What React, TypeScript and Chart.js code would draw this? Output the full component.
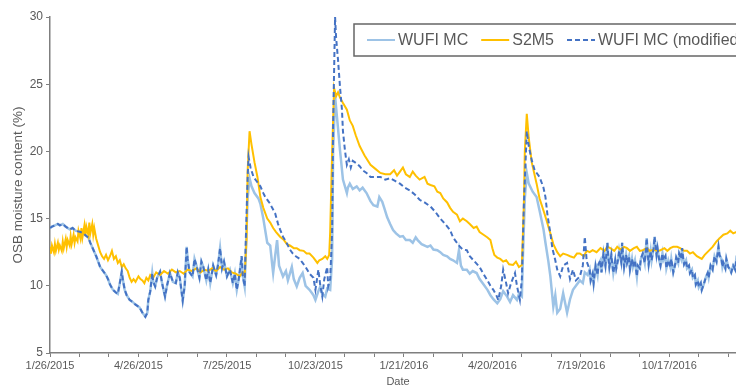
import React, { useEffect, useRef } from "react";
import { Chart, registerables } from "chart.js";

Chart.register(...registerables);

// ---- labels / ticks ----
const seriesLabels = ["WUFI MC", "S2M5", "WUFI MC (modified)"];
const xTickDays = [0, 30, 60, 90, 120, 150, 180, 210, 240, 270, 300, 330, 360, 390, 420, 450, 480, 510, 540, 570, 600, 630, 660, 690];
const xMajorLabels = ["1/26/2015", "4/26/2015", "7/25/2015", "10/23/2015", "1/21/2016", "4/20/2016", "7/19/2016", "10/17/2016"];
const yTicks = [5, 10, 15, 20, 25, 30];

// ---- data: [day since 1/26/2015, moisture content %] ----
// WUFI MC and WUFI MC (modified) coincide before the first wetting event
const sharedEarly: [number, number][] = [
  [0, 14.3], [2, 14.4], [5, 14.5], [8, 14.6], [10, 14.5], [13, 14.6], [16, 14.4], [20, 14.2], [23, 14.3], [26, 14.1],
  [31, 14.0], [34, 13.9], [37, 13.7], [39, 13.6], [41, 13.2], [44, 12.7], [47, 12.2], [51, 11.4], [54, 11.1], [57, 10.8],
  [59, 10.5], [61, 10.1], [64, 9.7], [67, 9.5], [69, 9.4], [71, 10.2], [73, 11.05], [74, 10.5], [76, 9.7], [78, 9.3],
  [81, 8.95], [84, 8.8], [87, 8.6], [91, 8.4], [94, 8.0], [97, 7.7], [99, 8.0], [100, 8.95], [102, 9.6], [104, 10.95],
  [105, 10.3], [107, 9.95], [109, 10.6], [112, 11.05], [114, 10.2], [117, 9.2], [119, 10.0], [122, 10.95], [125, 10.3], [128, 10.2],
  [130, 11.0], [132, 10.6], [135, 8.9], [137, 10.0], [139, 12.9], [140, 12.0], [142, 11.0], [145, 10.7], [147, 12.0], [149, 11.5],
  [152, 10.6], [154, 11.8], [156, 11.4], [159, 10.4], [161, 11.2], [163, 10.2], [166, 11.5], [169, 10.8], [171, 11.6], [173, 12.8],
  [175, 11.3], [177, 11.8], [180, 10.7], [183, 11.2], [186, 10.2], [188, 10.9], [190, 9.7], [192, 10.5], [195, 12.2], [196, 10.8],
  [198, 9.95],
];

const modifiedMid: [number, number][] = [
  [199, 13], [201, 18], [202, 19.6], [204, 18.8], [207, 18.1], [210, 17.8], [214, 17.4], [217, 16.9], [219, 16.6], [222, 16.3],
  [224, 16.1], [226, 15.8], [229, 15.4], [232, 14.6], [234, 14.2], [237, 13.65], [240, 13.3], [244, 12.7], [247, 12.4], [250, 12.2],
  [254, 12.0], [257, 11.7], [260, 11.4], [264, 10.9], [268, 10.6], [270, 9.7], [273, 11.2], [275, 10.0], [277, 9.2], [279, 10.5],
  [282, 11.4], [283, 9.95], [285, 10.5], [287, 14], [288, 22], [290, 30], [291, 28.5], [293, 26.8], [295, 24.8], [297, 23.1],
  [298, 21.5], [300, 20.1], [302, 19.0], [304, 19.4], [306, 18.8], [308, 19.3], [312, 19.1], [315, 18.9], [318, 18.6], [322, 18.4],
  [326, 18.1], [331, 18.1], [336, 18.1], [341, 17.9], [346, 18.0], [351, 17.8], [356, 17.6], [361, 17.3], [366, 17.1], [371, 16.8],
  [376, 16.4], [381, 16.2], [387, 15.9], [392, 15.5], [397, 15.0], [402, 14.6], [407, 14.15], [410, 13.6], [414, 13.2], [417, 12.9],
  [420, 12.7], [424, 12.65], [427, 12.2], [432, 11.8], [437, 11.4], [440, 11.0], [445, 10.4], [448, 10.0], [451, 9.7], [454, 9.3],
  [456, 8.95], [459, 10.0], [461, 11.2], [464, 10.2], [466, 9.45], [469, 10.2], [473, 10.95], [475, 10.0], [478, 8.95], [480, 10.5],
  [482, 16], [485, 21.5], [487, 20.4], [490, 19.35], [493, 18.6], [498, 18.1], [502, 17.3], [504, 16.6], [506, 15.3], [509, 13.9],
  [511, 12.8], [514, 11.9], [516, 11.2], [519, 10.7], [522, 11.5], [526, 11.7], [529, 10.5], [532, 11.2], [535, 10.4], [539, 10.7],
  [542, 11.5], [544, 13.65], [546, 11.8],
];

const wufiMid: [number, number][] = [
  [199, 12], [201, 16.5], [203, 18.0], [205, 17.4], [208, 16.9], [212, 16.5], [214, 16.1], [217, 15.0], [221, 13.2], [224, 13.0],
  [226, 11.6], [227, 10.95], [229, 12.2], [231, 13.4], [233, 11.5], [237, 10.7], [240, 11.1], [242, 10.4], [246, 11.4], [248, 10.5],
  [251, 9.95], [254, 10.6], [257, 10.95], [260, 10.0], [264, 9.7], [268, 9.3], [270, 8.95], [273, 9.6], [275, 9.95], [277, 9.4],
  [280, 9.2], [282, 9.8], [285, 9.7], [287, 12], [288, 20], [290, 24.1], [292, 22.5], [295, 20.1], [298, 17.9], [302, 16.9],
  [303, 17.3], [305, 17.6], [308, 17.2], [312, 17.4], [315, 17.1], [318, 17.3], [322, 16.9], [326, 16.3], [329, 16.0], [333, 15.9],
  [335, 16.6], [338, 16.25], [340, 15.8], [343, 15.1], [346, 14.6], [349, 14.15], [352, 13.9], [356, 13.65], [359, 13.7], [362, 13.4],
  [366, 13.4], [369, 13.2], [372, 13.6], [374, 13.4], [378, 13.1], [384, 12.9], [387, 13.0], [390, 12.7], [394, 12.65], [397, 12.5],
  [400, 12.3], [404, 12.2], [407, 12.0], [410, 11.9], [414, 11.7], [416, 12.65], [418, 11.5], [420, 11.2], [424, 11.2], [427, 10.9],
  [430, 11.1], [434, 10.95], [437, 10.5], [440, 10.2], [445, 9.7], [448, 9.3], [451, 9.0], [455, 8.7], [458, 9.0], [461, 9.6],
  [465, 9.2], [468, 8.8], [471, 9.3], [475, 8.95], [477, 9.4], [480, 9.2], [481, 12], [483, 16.5], [485, 18.4], [487, 17.6],
  [491, 17.0], [495, 16.6], [498, 15.6], [502, 14.2], [504, 13.2], [507, 11.8], [509, 10.7], [512, 8.45], [514, 9.3], [516, 8.0],
  [519, 8.3], [522, 9.45], [526, 8.0], [529, 9.0], [532, 9.7], [535, 10.0], [539, 10.4], [542, 10.2], [544, 11.0], [547, 10.8],
];

// both WUFI curves coincide again after summer 2016
const sharedLate: [number, number][] = [
  [549, 11.2], [550, 10.4], [552, 10.9], [553, 10.2], [555, 11.5], [557, 10.8], [558, 11.6], [560, 11.9], [561, 11.0], [563, 12.4],
  [565, 11.5], [567, 13.2], [568, 12.1], [569, 11.4], [571, 12.3], [572, 11.6], [573, 10.95], [575, 11.9], [576, 11.3], [578, 12.0],
  [579, 12.6], [581, 11.8], [582, 13.2], [583, 12.2], [584, 11.4], [586, 12.3], [587, 11.7], [589, 12.2], [590, 11.2], [592, 12.0],
  [593, 11.4], [595, 11.9], [597, 10.7], [598, 11.5], [600, 11.3], [601, 12.0], [603, 12.4], [605, 11.7], [607, 13.55], [608, 12.4],
  [609, 11.6], [611, 12.6], [612, 11.9], [614, 12.8], [615, 13.65], [617, 12.3], [618, 12.8], [620, 11.8], [621, 11.5], [623, 12.4],
  [624, 11.9], [626, 12.2], [627, 11.3], [629, 11.9], [631, 11.4], [632, 12.0], [634, 11.0], [636, 11.6], [637, 12.1], [639, 11.7],
  [640, 12.4], [642, 12.0], [643, 12.8], [644, 12.1], [645, 11.6], [647, 11.9], [648, 11.3], [650, 11.5], [651, 10.95], [653, 11.2],
  [654, 10.6], [656, 10.8], [657, 10.1], [659, 10.4], [660, 9.9], [662, 10.2], [663, 9.7], [664, 9.9], [665, 10.1], [667, 10.6],
  [669, 10.95], [670, 10.6], [672, 11.5], [674, 11.2], [676, 12.2], [678, 11.8], [680, 12.9], [681, 12.3], [683, 12.0], [684, 11.4],
  [685, 11.7], [687, 11.3], [688, 12.0], [690, 11.4], [692, 11.2], [693, 11.0], [695, 11.5], [697, 11.2], [698, 11.9], [700, 11.5],
  [702, 11.6],
];

const s2m5: [number, number][] = [
  [0, 12.9], [1, 12.4], [2, 13.0], [4, 12.5], [5, 13.1], [6, 12.6], [8, 13.2], [9, 12.7], [10, 13.0], [12, 12.6],
  [13, 13.3], [14, 12.8], [16, 13.5], [17, 12.9], [18, 13.4], [20, 13.0], [21, 13.7], [22, 13.1], [24, 13.8], [25, 13.2],
  [26, 13.6], [28, 13.3], [29, 14.1], [31, 13.5], [32, 14.3], [33, 13.6], [35, 14.5], [36, 13.7], [37, 14.4], [39, 13.8],
  [40, 14.7], [41, 13.9], [43, 14.6], [44, 13.8], [45, 14.3], [47, 13.5], [49, 13.0], [51, 12.5], [53, 12.2], [55, 12.0],
  [57, 12.3], [59, 11.9], [61, 12.2], [63, 12.6], [65, 12.0], [67, 12.2], [69, 11.7], [71, 11.9], [73, 11.4], [75, 11.6],
  [77, 11.3], [79, 11.1], [81, 10.6], [83, 10.3], [85, 10.5], [87, 10.3], [90, 10.7], [92, 10.5], [94, 10.4], [96, 10.2],
  [98, 10.6], [100, 10.4], [102, 10.8], [105, 10.6], [108, 11.0], [112, 10.8], [116, 11.1], [120, 10.9], [124, 11.2], [128, 11.0],
  [132, 11.1], [136, 10.9], [140, 11.2], [144, 11.1], [149, 11.3], [153, 11.0], [157, 11.2], [161, 11.1], [165, 11.3], [169, 11.1],
  [173, 11.4], [177, 11.2], [181, 11.3], [185, 11.0], [189, 10.9], [193, 10.7], [196, 11.0], [198, 10.8], [200, 13.5], [201, 18.5],
  [203, 21.5], [205, 20.5], [208, 19.2], [211, 18.1], [214, 16.6], [217, 15.8], [221, 15.0], [224, 14.7], [227, 14.3], [230, 14.0],
  [234, 13.65], [238, 13.4], [241, 13.1], [244, 13.0], [248, 12.8], [251, 12.8], [254, 12.65], [258, 12.6], [261, 12.4], [264, 12.4],
  [268, 12.1], [272, 11.7], [274, 11.9], [277, 12.0], [280, 12.2], [282, 12.0], [284, 12.3], [285, 14], [287, 20], [289, 24.7],
  [291, 24.1], [293, 24.4], [295, 24.0], [298, 23.6], [302, 23.1], [305, 22.3], [308, 21.9], [311, 21.2], [315, 20.4], [320, 19.7],
  [326, 19.0], [331, 18.7], [336, 18.4], [341, 18.3], [346, 18.3], [350, 18.6], [353, 18.2], [356, 18.5], [359, 18.8], [362, 18.3],
  [366, 18.1], [369, 18.5], [372, 18.2], [376, 17.9], [381, 18.1], [384, 17.6], [387, 17.5], [391, 17.4], [394, 17.0], [397, 16.9],
  [400, 16.5], [404, 16.2], [407, 15.8], [410, 15.5], [414, 15.3], [417, 14.8], [420, 15.0], [424, 14.8], [427, 14.6], [431, 14.3],
  [434, 14.4], [437, 14.0], [441, 13.8], [445, 13.6], [448, 13.4], [450, 12.8], [452, 12.3], [455, 12.1], [458, 12.0], [461, 11.8],
  [464, 11.9], [467, 11.6], [471, 11.55], [474, 11.8], [477, 11.4], [480, 11.55], [482, 16], [483, 20], [485, 22.8], [487, 21.0],
  [490, 19.2], [495, 17.6], [498, 16.5], [502, 15.6], [505, 14.9], [509, 13.9], [512, 13.1], [516, 12.5], [519, 12.2], [522, 12.4],
  [526, 12.3], [529, 12.2], [533, 12.1], [536, 12.4], [539, 12.4], [543, 12.2], [546, 12.6], [549, 12.5], [552, 12.65], [556, 12.5],
  [560, 12.8], [564, 12.6], [567, 12.9], [570, 12.8], [574, 12.6], [577, 12.9], [580, 12.7], [584, 12.9], [587, 12.8], [590, 12.6],
  [594, 12.8], [597, 12.9], [600, 12.6], [603, 12.65], [607, 12.8], [610, 12.6], [614, 12.7], [618, 12.6], [621, 12.65], [625, 12.8],
  [628, 12.6], [631, 12.8], [634, 12.9], [638, 12.9], [641, 12.8], [645, 12.6], [648, 12.6], [651, 12.4], [654, 12.5], [658, 12.2],
  [663, 12.0], [666, 12.3], [670, 12.6], [674, 12.9], [678, 13.3], [682, 13.6], [685, 13.8], [689, 13.9], [692, 14.1], [695, 13.9],
  [698, 14.0], [702, 13.9],
];

const COLORS = { wufi: "#9DC3E6", s2m5: "#FFC000", modified: "#4472C4" };
const AXIS_COLOR = "#7f7f7f";
const TEXT_COLOR = "#595959";
const FONT = "'Liberation Sans', Arial, sans-serif";

function toPoints(...parts: [number, number][][]) {
  return parts.flat().map(([x, y]) => ({ x, y }));
}

function labelForDay(day: number) {
  if (day % 90 !== 0) return "";
  return xMajorLabels[day / 90] ?? "";
}

const boxLegend = {
  id: "boxLegend",
  afterDraw(chart: any) {
    const ctx = chart.ctx as CanvasRenderingContext2D;
    const items = [
      { label: seriesLabels[0], color: COLORS.wufi, dash: [] as number[] },
      { label: seriesLabels[1], color: COLORS.s2m5, dash: [] as number[] },
      { label: seriesLabels[2], color: COLORS.modified, dash: [5, 3] },
    ];
    const left = 354, top = 24, h = 32;
    const lineLen = 28, gapText = 3, gapItem = 13, padL = 13;
    ctx.save();
    ctx.font = `16px ${FONT}`;
    let total = padL;
    items.forEach((it, i) => {
      total += lineLen + gapText + ctx.measureText(it.label).width + (i < items.length - 1 ? gapItem : 10);
    });
    ctx.fillStyle = "#ffffff";
    ctx.fillRect(left, top, total, h);
    ctx.strokeStyle = "#666666";
    ctx.lineWidth = 1.5;
    ctx.strokeRect(left, top, total, h);
    const cy = top + h / 2;
    let x = left + padL;
    ctx.textBaseline = "middle";
    ctx.textAlign = "left";
    items.forEach((it) => {
      ctx.beginPath();
      ctx.setLineDash(it.dash);
      ctx.strokeStyle = it.color;
      ctx.lineWidth = 2;
      ctx.moveTo(x, cy);
      ctx.lineTo(x + lineLen, cy);
      ctx.stroke();
      ctx.setLineDash([]);
      x += lineLen + gapText;
      ctx.fillStyle = TEXT_COLOR;
      ctx.fillText(it.label, x, cy + 1);
      x += ctx.measureText(it.label).width + gapItem;
    });
    ctx.restore();
  },
};

export default function App() {
  const canvasRef = useRef<HTMLCanvasElement | null>(null);

  useEffect(() => {
    if (!canvasRef.current) return;
    const chart = new Chart(canvasRef.current, {
      type: "line",
      data: {
        datasets: [
          {
            label: seriesLabels[2],
            data: toPoints(sharedEarly, modifiedMid, sharedLate),
            borderColor: COLORS.modified,
            borderWidth: 2,
            borderDash: [5, 3],
            pointRadius: 0,
            tension: 0,
            fill: false,
          },
          {
            label: seriesLabels[1],
            data: toPoints(s2m5),
            borderColor: COLORS.s2m5,
            borderWidth: 2,
            pointRadius: 0,
            tension: 0,
            fill: false,
          },
          {
            label: seriesLabels[0],
            data: toPoints(sharedEarly, wufiMid, sharedLate),
            borderColor: COLORS.wufi,
            borderWidth: 2.5,
            pointRadius: 0,
            tension: 0,
            fill: false,
          },
        ],
      },
      options: {
        responsive: false,
        animation: false,
        devicePixelRatio: 1,
        layout: { padding: { left: 0, top: 17, right: 44, bottom: 0 } },
        plugins: { legend: { display: false }, tooltip: { enabled: false } },
        scales: {
          x: {
            type: "linear",
            min: 0,
            max: 708,
            afterBuildTicks: (s: any) => {
              s.ticks = xTickDays.map((v) => ({ value: v }));
            },
            afterFit: (s: any) => {
              s.height = 47;
            },
            ticks: {
              autoSkip: false,
              maxRotation: 0,
              minRotation: 0,
              padding: 2,
              color: TEXT_COLOR,
              font: { family: FONT, size: 11 },
              callback: (v: any) => labelForDay(Number(v)),
            },
            grid: { drawOnChartArea: false, drawTicks: true, tickLength: 4, color: AXIS_COLOR, lineWidth: 1 },
            border: { display: true, color: AXIS_COLOR, width: 1.5 },
            title: {
              display: true,
              text: "Date",
              color: TEXT_COLOR,
              font: { family: FONT, size: 11 },
              padding: { top: 0, bottom: 11 },
            },
          },
          y: {
            min: 5,
            max: 30,
            afterBuildTicks: (s: any) => {
              s.ticks = yTicks.map((v) => ({ value: v }));
            },
            afterFit: (s: any) => {
              s.width = 50;
            },
            ticks: {
              padding: 3,
              color: TEXT_COLOR,
              font: { family: FONT, size: 12 },
            },
            grid: { drawOnChartArea: false, drawTicks: true, tickLength: 4, color: AXIS_COLOR, lineWidth: 1 },
            border: { display: true, color: AXIS_COLOR, width: 1.5 },
            title: {
              display: true,
              text: "OSB moisture content (%)",
              color: TEXT_COLOR,
              font: { family: FONT, size: 13.5 },
              padding: { top: 10, bottom: 0 },
            },
          },
        },
      },
      plugins: [boxLegend],
    } as any);
    return () => chart.destroy();
  }, []);

  return (
    <div
      style={{
        position: "fixed",
        left: 0,
        top: 0,
        width: 736,
        height: 385,
        overflow: "hidden",
        background: "#ffffff",
      }}
    >
      <canvas ref={canvasRef} width={790} height={400} style={{ display: "block" }} />
    </div>
  );
}
